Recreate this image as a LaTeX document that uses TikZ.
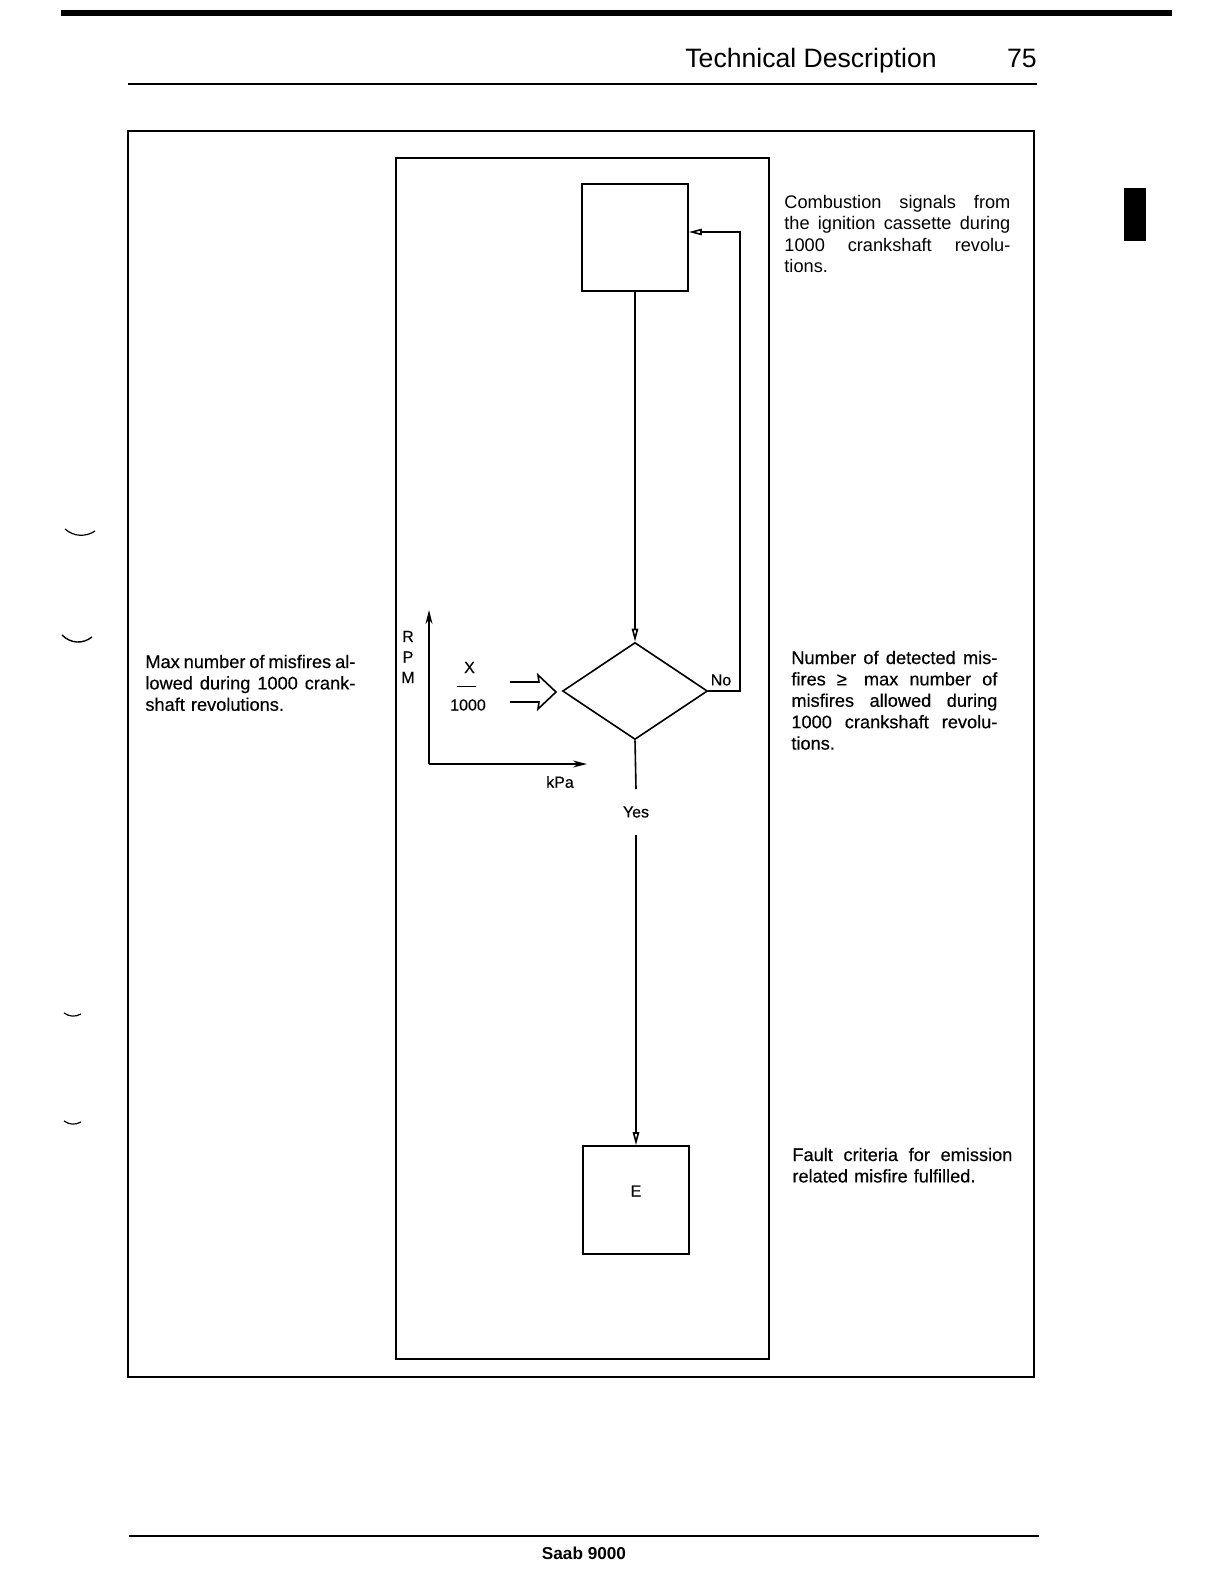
\documentclass[tikz,border=0pt]{standalone}
\usepackage{fontspec}
\setmainfont{Liberation Sans}
\newfontfamily\inkfont[FakeBold=0.35]{Liberation Sans}
\usetikzlibrary{arrows.meta,positioning,shapes.geometric}
\newcommand{\jline}[1]{\makebox[\hsize][s]{\spaceskip=0.278em plus 1fil minus 0.09em\relax #1}}
\tikzset{
  frame/.style={draw,line width=0.9pt},
  stepbox/.style={draw,line width=0.8pt,minimum width=53pt,minimum height=53.5pt,inner sep=0pt},
  decision/.style={draw,diamond,line width=0.8pt,minimum width=72.5pt,minimum height=48.5pt,inner sep=0pt},
  flowline/.style={line width=0.8pt},
  flowarrow/.style={flowline,-{Triangle[open,length=6.5pt,width=3.2pt]}},
  axisarrow/.style={line width=0.8pt,-{Stealth[length=7pt,width=3.5pt]}},
  note/.style={inner sep=0pt,anchor=base west,align=left,font=\inkfont\fontsize{9.1}{10.7}\selectfont},
  tag/.style={inner sep=0pt,font=\inkfont\fontsize{8}{10.25}\selectfont}
}
\begin{document}
\begin{tikzpicture}[x=0.5pt,y=-0.5pt]
\fill[white] (0,0) rectangle (1224,1584);
\useasboundingbox (0,0) rectangle (1224,1584);

% page head and foot
\draw[line width=2.6pt] (61,13) -- (1172,13);
\node[inner sep=0pt,anchor=base west,font=\fontsize{13.3}{15}\selectfont] (title) at (685,68) {Technical Description};
\node[inner sep=0pt,anchor=base east,font=\fontsize{13.3}{15}\selectfont] (pageno) at (1037,68) {75};
\draw[line width=1.2pt] (128,84) -- (1037,84);
\draw[line width=1.2pt] (129,1536) -- (1039,1536);
\node[inner sep=0pt,font=\fontsize{8.6}{10}\selectfont\bfseries] (foot) at (584,1553) {Saab 9000};
\fill (1124,188) rectangle (1146,241);

% binding marks
\draw[line width=0.6pt] (65,529) .. controls (74,537) and (86,537) .. (95,531);
\draw[line width=0.7pt] (62,635) .. controls (71,644) and (83,644) .. (92,637);
\draw[line width=0.6pt] (64,1013) .. controls (70,1017) and (75,1017) .. (81,1014);
\draw[line width=0.6pt] (64,1121) .. controls (70,1125) and (75,1125) .. (81,1122);

% frames
\draw[frame] (128,131) rectangle (1034,1377);
\draw[frame] (396,158) rectangle (769,1359);

% flow chart
\node[stepbox] (signals) at (635,237.5) {};
\node[decision] (check) at (635,691) {};
\node[stepbox,minimum height=54pt,label={[tag,yshift=4.5pt]center:E}] (fault) at (636,1200) {};
\node[tag] (no) at (721,680) {No};
\node[tag,inner ysep=8.5pt] (yes) at (636,812) {Yes};
\coordinate (loop) at (740,232);

\draw[flowarrow] (signals.south) -- (check.north);
\draw[flowarrow] (check.east) -| (loop) -- (signals.east |- loop);
\draw[flowline] (check.south) -- (yes.north);
\draw[flowarrow] (yes.south) -- (fault.north);

% rpm/kPa map
\coordinate (origin) at (429,764);
\coordinate (ytip) at (429,610);
\coordinate (xtip) at (587,764);
\draw[axisarrow] (origin) -- (ytip);
\draw[axisarrow] (origin) -- (xtip);
\node[tag,align=center] (rpm) at (408,657) {R\\P\\M};
\node[tag] (kpa) at (560,782) {kPa};
\node[tag] (xnum) at (469.5,667.5) {X};
\node[tag] (xden) at (468,705) {1000};
\draw[line width=0.5pt] (457,686) -- (476,686);
\draw[line width=0.8pt,line join=miter] (510,682) -- (539,682) -- (538,675) -- (556,692) -- (538,709) -- (539,702) -- (510,702);

% notes
\node[note,font=\fontsize{9.1}{10.7}\selectfont,text width=113pt] (combustion) at (784,208.5) {\jline{Combustion signals from}\\\jline{the ignition cassette during}\\\jline{1000 crankshaft revolu-}\\tions.};
\node[note,text width=103pt] (detected) at (791,664) {\jline{Number of detected mis-}\\\jline{fires ≥\hspace{3pt} max number of}\\\jline{misfires allowed during}\\\jline{1000 crankshaft revolu-}\\tions.};
\node[note,text width=105pt] (allowed) at (145,668) {\jline{Max number of misfires al-}\\\jline{lowed during 1000 crank-}\\shaft revolutions.};
\node[note,text width=110pt] (criteria) at (792,1161) {\jline{Fault criteria for emission}\\related misfire fulfilled.};
\end{tikzpicture}
\end{document}
